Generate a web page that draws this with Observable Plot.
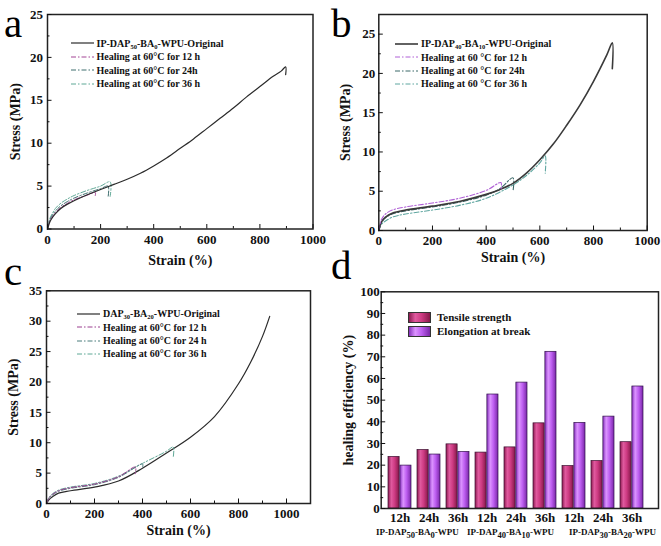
<!DOCTYPE html>
<html>
<head>
<meta charset="utf-8">
<script src="https://cdn.jsdelivr.net/npm/d3@7"></script>
<script src="https://cdn.jsdelivr.net/npm/@observablehq/plot@0.6"></script>
<style>
  html, body { margin: 0; padding: 0; background: #fff; }
  #wrap { position: relative; width: 661px; height: 546px; background: #fff; overflow: hidden;
          font-family: 'Liberation Serif', 'Times New Roman', serif; color: #111; }
  .panel { position: absolute; }
  #letters { position: absolute; left: 0; top: 0; }
  .leg { position: absolute; font-weight: bold; font-size: 10px; line-height: 13.4px; white-space: nowrap; }
  .leg .row { display: flex; align-items: center; height: 13.4px; }
  .leg svg { margin-right: 3px; }
  .leg sub { font-size: 0.65em; vertical-align: -0.25em; line-height: 0; }
  .glabel { position: absolute; font-weight: bold; font-size: 9px; white-space: nowrap; transform: translateX(-50%); color: #111; }
  .glabel sub { font-size: 0.95em; vertical-align: -0.3em; line-height: 0; }
  .dleg { position: absolute; font-weight: bold; font-size: 11px; white-space: nowrap; display: flex; align-items: center; height: 10px; }
  .dleg .box { width: 21px; height: 9px; border: 0.8px solid #333; margin-right: 6px; }
</style>
</head>
<body>
<div id="wrap"></div>
<script>
// ---------------- Panel a data ----------------
const aOrigStrain = [0, 5, 10, 20, 30, 50, 75, 100, 150, 200, 250, 300, 350, 400, 450, 500, 550, 600, 650, 700, 750, 800, 850, 880, 897, 897];
const aOrigStress = [0, 0.5, 0.9, 1.4, 1.8, 2.4, 2.9, 3.3, 4.0, 4.6, 5.2, 5.8, 6.5, 7.35, 8.3, 9.4, 10.5, 11.7, 12.9, 14.1, 15.4, 16.6, 17.8, 18.4, 18.9, 18.0];
const aH12Strain = [0, 5, 10, 20, 30, 50, 75, 100, 150, 180, 180];
const aH12Stress = [0, 0.6, 1.0, 1.5, 1.9, 2.5, 3.0, 3.4, 3.95, 4.25, 3.9];
const aH24Strain = [0, 5, 10, 20, 30, 50, 75, 100, 150, 200, 228, 228];
const aH24Stress = [0, 0.7, 1.1, 1.7, 2.1, 2.7, 3.2, 3.6, 4.2, 4.7, 5.0, 3.7];
const aH36Strain = [0, 5, 10, 20, 30, 50, 75, 100, 150, 200, 236, 236];
const aH36Stress = [0, 0.8, 1.3, 1.9, 2.4, 3.0, 3.5, 3.9, 4.5, 5.0, 5.5, 3.8];

// ---------------- Panel b data ----------------
const bOrigStrain = [0, 10, 25, 50, 100, 200, 300, 400, 450, 500, 550, 600, 650, 700, 750, 800, 850, 870, 870];
const bOrigStress = [0, 1.1, 1.7, 2.2, 2.6, 3.1, 3.7, 4.6, 5.2, 6.0, 7.3, 9.0, 11.0, 13.4, 16.0, 19.0, 22.4, 23.9, 20.6];
const bH12Strain = [0, 10, 25, 50, 100, 200, 300, 400, 455, 455];
const bH12Stress = [0, 1.4, 2.1, 2.6, 3.0, 3.5, 4.1, 5.1, 6.1, 5.2];
const bH24Strain = [0, 10, 25, 50, 100, 200, 300, 400, 450, 500, 500];
const bH24Stress = [0, 1.0, 1.6, 2.1, 2.5, 3.0, 3.6, 4.5, 5.3, 6.7, 5.0];
const bH36Strain = [0, 10, 25, 50, 100, 200, 300, 400, 500, 550, 600, 620, 620];
const bH36Stress = [0, 0.8, 1.2, 1.7, 2.1, 2.6, 3.2, 4.1, 5.8, 7.0, 8.6, 9.5, 7.3];

// ---------------- Panel c data ----------------
const cOrigStrain = [0, 10, 25, 50, 100, 200, 300, 400, 500, 600, 700, 800, 850, 900, 930];
const cOrigStress = [0, 0.6, 1.1, 1.7, 2.1, 2.7, 3.7, 5.8, 8.3, 10.9, 14.3, 19.7, 23.2, 27.5, 30.8];
const cH12Strain = [0, 10, 25, 50, 100, 200, 300, 370, 370];
const cH12Stress = [0, 0.9, 1.5, 2.1, 2.6, 3.2, 4.4, 6.0, 4.9];
const cH24Strain = [0, 10, 25, 50, 100, 200, 300, 400, 400];
const cH24Stress = [0, 0.8, 1.4, 2.0, 2.5, 3.1, 4.3, 6.5, 5.8];
const cH36Strain = [0, 10, 25, 50, 100, 200, 300, 400, 500, 528, 528];
const cH36Stress = [0, 1.0, 1.6, 2.2, 2.7, 3.3, 4.5, 6.6, 8.6, 9.3, 7.6];

// ---------------- Panel d data ----------------
const dGroups = ["IP-DAP50-BA0-WPU", "IP-DAP40-BA10-WPU", "IP-DAP30-BA20-WPU"];
const dTimes = ["12h", "24h", "36h"];
const dTensile = [23.8, 27.0, 29.6, 25.8, 28.2, 39.3, 19.6, 21.9, 30.6];
const dElongation = [19.8, 24.9, 26.1, 52.6, 58.1, 72.3, 39.5, 42.4, 56.3];
const dMetricNames = ["Tensile strength", "Elongation at break"];

// ---------------- Tick values / labels ----------------
const strainTicks = [0, 200, 400, 600, 800, 1000];
const strainMinor = [100, 300, 500, 700, 900];
const stressTicks25 = [0, 5, 10, 15, 20, 25];
const stressMinor25 = [2.5, 7.5, 12.5, 17.5, 22.5];
const stressTicks35 = [0, 5, 10, 15, 20, 25, 30, 35];
const stressMinor35 = [2.5, 7.5, 12.5, 17.5, 22.5, 27.5, 32.5];
const effTicks = [0, 10, 20, 30, 40, 50, 60, 70, 80, 90, 100];
const effMinor = [5, 15, 25, 35, 45, 55, 65, 75, 85, 95];

const legendA = ["IP-DAP<sub>50</sub>-BA<sub>0</sub>-WPU-Original", "Healing at 60°C for 12 h", "Healing at 60°C for 24h", "Healing at 60°C for 36 h"];
const legendB = ["IP-DAP<sub>40</sub>-BA<sub>10</sub>-WPU-Original", "Healing at 60 °C for 12 h", "Healing at 60 °C for 24h", "Healing at 60 °C for 36 h"];
const legendC = ["DAP<sub>30</sub>-BA<sub>20</sub>-WPU-Original", "Healing at 60°C for 12 h", "Healing at 60°C for 24 h", "Healing at 60°C for 36 h"];
const groupLabelsHTML = ["IP-DAP<sub>50</sub>-BA<sub>0</sub>-WPU", "IP-DAP<sub>40</sub>-BA<sub>10</sub>-WPU", "IP-DAP<sub>30</sub>-BA<sub>20</sub>-WPU"];
const panelLetters = ["a", "b", "c", "d"];

// ---------------- helpers ----------------
const FONT = "'Liberation Serif', 'Times New Roman', serif";
const wrap = document.getElementById("wrap");
const toRows = (xs, ys) => xs.map((x, i) => ({strain: x, stress: ys[i]}));
const DASH = "5,2,1.5,2";
const fmt = d => String(d);

function place(node, left, top) {
  const d = document.createElement("div");
  d.className = "panel";
  d.style.left = left + "px";
  d.style.top = top + "px";
  d.appendChild(node);
  wrap.appendChild(d);
}

function curvePanel(cfg) {
  const marks = [];
  cfg.series.forEach(s => {
    marks.push(Plot.line(s.rows, {x: "strain", y: "stress", stroke: s.color, strokeWidth: s.width,
      strokeDasharray: s.dash || null, curve: "catmull-rom"}));
  });
  marks.push(Plot.frame({stroke: "#222", strokeWidth: 1.5}));
  marks.push(Plot.axisX({ticks: strainTicks, tickSize: -4.5, tickPadding: 10, label: null, tickFormat: fmt, fontSize: 13}));
  marks.push(Plot.axisX({ticks: cfg.xMinor, tickSize: -2.5, fill: "none", label: null}));
  marks.push(Plot.axisY({ticks: cfg.yTicks, tickSize: -4.5, tickPadding: cfg.yPad, label: null, tickFormat: fmt, fontSize: 13}));
  marks.push(Plot.axisY({ticks: cfg.yMinor, tickSize: -2.5, fill: "none", label: null}));
  marks.push(Plot.text(["Strain (%)"], {frameAnchor: "bottom", dy: cfg.xLabelDy, lineAnchor: "middle", textAnchor: "middle", fontSize: 14}));
  marks.push(Plot.text(["Stress (MPa)"], {frameAnchor: "left", dx: cfg.yLabelDx, rotate: -90, textAnchor: "middle", lineAnchor: "middle", fontSize: 14}));
  return Plot.plot({
    width: cfg.w, height: cfg.h,
    marginTop: cfg.m[0], marginRight: cfg.m[1], marginBottom: cfg.m[2], marginLeft: cfg.m[3],
    style: {fontFamily: FONT, fontWeight: "bold", fontSize: "13px", color: "#111", background: "transparent", overflow: "visible"},
    x: {domain: cfg.xDomain},
    y: {domain: cfg.yDomain},
    marks
  });
}

function legend(labels, colors, widths, left, top) {
  const box = document.createElement("div");
  box.className = "leg";
  box.style.left = left + "px";
  box.style.top = top + "px";
  labels.forEach((lab, i) => {
    const row = document.createElement("div");
    row.className = "row";
    const dash = i === 0 ? "" : `stroke-dasharray="${DASH}"`;
    row.innerHTML = `<svg width="23" height="6"><line x1="0" y1="3" x2="23" y2="3" stroke="${colors[i]}" stroke-width="${widths[i]}" ${dash}/></svg><span>${lab}</span>`;
    box.appendChild(row);
  });
  wrap.appendChild(box);
}

// ---------------- Panel a ----------------
const colA = ["#2b2b2b", "#a34595", "#3e6e6e", "#5fa896"];
place(curvePanel({
  w: 330, h: 273, m: [14, 17.5, 44.5, 47],
  xDomain: [0, 1000], yDomain: [0, 25], xMinor: strainMinor,
  yTicks: stressTicks25, yMinor: stressMinor25, yPad: 9,
  xLabelDy: 31.5, yLabelDx: -32,
  series: [
    {rows: toRows(aH36Strain, aH36Stress), color: colA[3], width: 1, dash: DASH},
    {rows: toRows(aH24Strain, aH24Stress), color: colA[2], width: 1, dash: DASH},
    {rows: toRows(aH12Strain, aH12Stress), color: colA[1], width: 1, dash: DASH},
    {rows: toRows(aOrigStrain, aOrigStress), color: colA[0], width: 1.2}
  ]
}), 0, 0);
legend(legendA, colA, [1.2, 1, 1, 1], 70.5, 36.8);

// ---------------- Panel b ----------------
const colB = ["#3a3a3a", "#b061d6", "#3b6868", "#5fa6a0"];
place(curvePanel({
  w: 331, h: 273, m: [14, 14.3, 43, 48.3],
  xDomain: [0, 1000], yDomain: [0, 27.5], xMinor: strainMinor,
  yTicks: stressTicks25, yMinor: stressMinor25, yPad: 8,
  xLabelDy: 27, yLabelDx: -33,
  series: [
    {rows: toRows(bH36Strain, bH36Stress), color: colB[3], width: 1.1, dash: DASH},
    {rows: toRows(bH24Strain, bH24Stress), color: colB[2], width: 1.1, dash: DASH},
    {rows: toRows(bOrigStrain, bOrigStress), color: colB[0], width: 1.6},
    {rows: toRows(bH12Strain, bH12Stress), color: colB[1], width: 1.1, dash: DASH}
  ]
}), 330, 0);
legend(legendB, colB, [1.6, 1, 1, 1], 395, 37.3);

// ---------------- Panel c ----------------
const colC = ["#2b2b2b", "#9b3f8f", "#4b7c7c", "#5fa896"];
place(curvePanel({
  w: 330, h: 273, m: [17.3, 20, 43, 46],
  xDomain: [0, 1100], yDomain: [0, 35], xMinor: strainMinor,
  yTicks: stressTicks35, yMinor: stressMinor35, yPad: 9,
  xLabelDy: 27, yLabelDx: -33,
  series: [
    {rows: toRows(cOrigStrain, cOrigStress), color: colC[0], width: 1.2},
    {rows: toRows(cH36Strain, cH36Stress), color: colC[3], width: 1, dash: DASH},
    {rows: toRows(cH24Strain, cH24Stress), color: colC[2], width: 1, dash: DASH},
    {rows: toRows(cH12Strain, cH12Stress), color: colC[1], width: 1, dash: DASH}
  ]
}), 0, 273);
legend(legendC, colC, [1.2, 1, 1, 1], 77, 307.3);

// ---------------- Panel d ----------------
const dRows = [];
dGroups.forEach((g, gi) => dTimes.forEach((t, ti) => {
  const i = gi * 3 + ti;
  dRows.push({key: g + "|" + t, tensile: dTensile[i], elongation: dElongation[i]});
}));
const dKeys = dRows.map(r => r.key);
const dRange = [49, 322], dPad = 0.2;
const dStep = (dRange[1] - dRange[0]) / (dKeys.length - dPad + 2 * dPad);
const dHalf = dStep * (1 - dPad) / 2;

const plotD = Plot.plot({
  width: 331, height: 273,
  marginTop: 18.3, marginRight: 3, marginBottom: 38, marginLeft: 50.7,
  style: {fontFamily: FONT, fontWeight: "bold", fontSize: "13px", color: "#111", background: "transparent", overflow: "visible"},
  x: {type: "band", domain: dKeys, range: dRange, padding: dPad},
  y: {domain: [0, 100]},
  marks: [
    Plot.barY(dRows, {x: "key", y: "tensile", fill: "url(#gPink)", stroke: "#3a1030", strokeWidth: 0.7, insetRight: dHalf}),
    Plot.barY(dRows, {x: "key", y: "elongation", fill: "url(#gPurple)", stroke: "#30104a", strokeWidth: 0.7, insetLeft: dHalf}),
    Plot.frame({stroke: "#222", strokeWidth: 1.5}),
    Plot.axisX({tickSize: 0, tickPadding: 4, label: null, tickFormat: d => d.split("|")[1], fontSize: 13}),
    Plot.axisY({ticks: effTicks, tickSize: -4.5, tickPadding: 6, label: null, tickFormat: fmt, fontSize: 13}),
    Plot.axisY({ticks: effMinor, tickSize: -2.5, fill: "none", label: null}),
    Plot.text(["healing efficiency (%)"], {frameAnchor: "left", dx: -33, rotate: -90, textAnchor: "middle", lineAnchor: "middle", fontSize: 14})
  ]
});
// gradients for 3D-looking bars
(function addDefs(svg) {
  const ns = "http://www.w3.org/2000/svg";
  const defs = document.createElementNS(ns, "defs");
  const grads = {
    gPink: [["0", "#8c1a50"], ["0.3", "#e05a9f"], ["0.6", "#cd3a82"], ["1", "#861849"]],
    gPurple: [["0", "#8630bd"], ["0.3", "#dc94ff"], ["0.6", "#bd5ef0"], ["1", "#7a27a8"]]
  };
  for (const id in grads) {
    const lg = document.createElementNS(ns, "linearGradient");
    lg.setAttribute("id", id);
    lg.setAttribute("x1", "0"); lg.setAttribute("x2", "1");
    lg.setAttribute("y1", "0"); lg.setAttribute("y2", "0");
    grads[id].forEach(([o, c]) => {
      const st = document.createElementNS(ns, "stop");
      st.setAttribute("offset", o);
      st.setAttribute("stop-color", c);
      lg.appendChild(st);
    });
    defs.appendChild(lg);
  }
  svg.insertBefore(defs, svg.firstChild);
})(plotD);
place(plotD, 330, 273);

// panel d legend
[["linear-gradient(90deg,#8c1a50,#e05a9f 30%,#cd3a82 60%,#861849)", dMetricNames[0], 312.3],
 ["linear-gradient(90deg,#8630bd,#dc94ff 30%,#bd5ef0 60%,#7a27a8)", dMetricNames[1], 326.3]].forEach(([bg, txt, top]) => {
  const el = document.createElement("div");
  el.className = "dleg";
  el.style.left = "408px";
  el.style.top = top + "px";
  el.innerHTML = `<div class="box" style="background:${bg}"></div><span>${txt}</span>`;
  wrap.appendChild(el);
});

// group labels under panel d
[417.3, 510.5, 612.5].forEach((cx, i) => {
  const el = document.createElement("div");
  el.className = "glabel";
  el.style.left = cx + "px";
  el.style.top = "527px";
  el.innerHTML = groupLabelsHTML[i];
  wrap.appendChild(el);
});

// panel letters (SVG overlay, positioned by baseline)
(function () {
  const ns = "http://www.w3.org/2000/svg";
  const svg = document.createElementNS(ns, "svg");
  svg.setAttribute("id", "letters");
  svg.setAttribute("width", "661");
  svg.setAttribute("height", "546");
  svg.style.pointerEvents = "none";
  const pos = [[4, 37], [331, 37], [4, 285], [331, 279]];
  panelLetters.forEach((t, i) => {
    const tx = document.createElementNS(ns, "text");
    tx.setAttribute("x", pos[i][0]);
    tx.setAttribute("y", pos[i][1]);
    tx.setAttribute("font-family", FONT);
    tx.setAttribute("font-size", "41");
    tx.setAttribute("fill", "#000");
    tx.textContent = t;
    svg.appendChild(tx);
  });
  wrap.appendChild(svg);
})();
</script>
</body>
</html>
